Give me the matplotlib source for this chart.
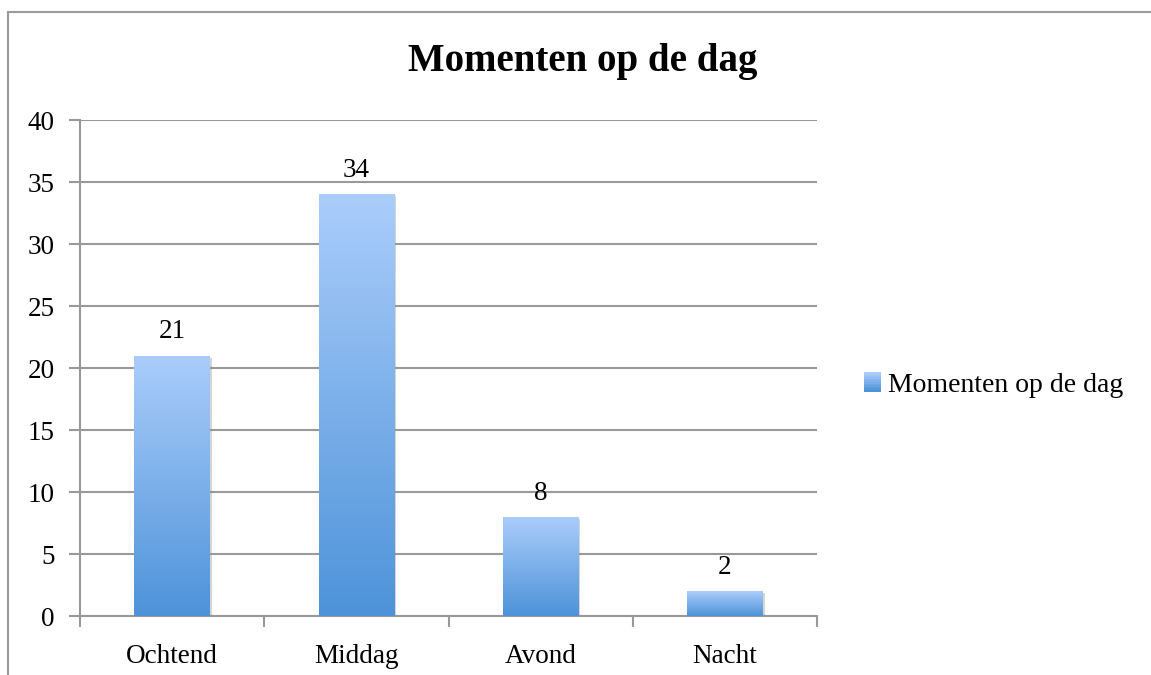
import numpy as np
import matplotlib
matplotlib.use("Agg")
import matplotlib.pyplot as plt
from matplotlib.lines import Line2D
from matplotlib.patches import Patch, Rectangle
from matplotlib.colors import LinearSegmentedColormap
from matplotlib.legend_handler import HandlerBase
import matplotlib.patheffects as pe

categories = ["Ochtend", "Middag", "Avond", "Nacht"]
values = [21, 34, 8, 2]
series_name = "Momenten op de dag"
title = "Momenten op de dag"
yticks = [0, 5, 10, 15, 20, 25, 30, 35, 40]

plt.rcParams['font.family'] = ['Liberation Serif', 'DejaVu Serif']

grid_col = "#999999"
top_col = "#abcdfb"
bot_col = "#4d93d9"
grad = LinearSegmentedColormap.from_list("bar", [bot_col, top_col])


class HandlerGrad(HandlerBase):
    # small gradient square for the legend, built from thin stripes
    def create_artists(self, legend, orig_handle, xdescent, ydescent,
                       width, height, fontsize, trans):
        n = 12
        out = []
        for i in range(n):
            r = Rectangle((-xdescent, -ydescent + height * i / n), width, height / n + 0.3,
                          facecolor=grad(i / (n - 1)), edgecolor="none", transform=trans)
            out.append(r)
        return out


fig = plt.figure(figsize=(11.51, 6.75), dpi=100)
ax = fig.add_axes([80 / 1151, 1 - 616 / 675, 737 / 1151, 496 / 675])

# outer frame of the chart (only top and left edges visible)
fig.add_artist(Line2D([8 / 1151, 1.0], [1 - 11.5 / 675, 1 - 11.5 / 675],
                      transform=fig.transFigure, color=grid_col, lw=1.5))
fig.add_artist(Line2D([8 / 1151, 8 / 1151], [0, 1 - 11.5 / 675],
                      transform=fig.transFigure, color=grid_col, lw=1.5))

x = np.arange(len(categories))
width = 0.41
bars = ax.bar(x, values, width, color="#7fb0ea", zorder=3,
              path_effects=[pe.SimplePatchShadow(offset=(1.5, -1.5), shadow_rgbFace="#888888", alpha=0.35),
                            pe.Normal()])

g = np.linspace(0, 1, 256).reshape(-1, 1)
for b in bars:
    x0 = b.get_x()
    h = b.get_height()
    im = ax.imshow(g, extent=[x0, x0 + width, 0, h], origin="lower",
                   aspect="auto", cmap=grad, zorder=4)
    im.set_clip_path(b)

for xi, v in zip(x, values):
    ax.annotate(str(v), (xi, v), xytext=(0, 8), textcoords="offset points",
                ha="center", va="bottom", fontsize=19.5)

ax.set_xlim(-0.5, len(categories) - 0.5)
ax.set_ylim(0, 40)
ax.set_yticks(yticks)
ax.grid(axis="y", color=grid_col, lw=1.5, zorder=0)
ax.set_axisbelow(True)

ax.set_xticks(np.arange(len(categories) + 1) - 0.5)
ax.set_xticklabels([])
ax.set_xticks(x, minor=True)
ax.set_xticklabels(categories, minor=True)
ax.tick_params(axis="x", which="major", length=8, width=1.5, color=grid_col, direction="out")
ax.tick_params(axis="x", which="minor", length=0, pad=20, labelsize=19.5)
ax.tick_params(axis="y", length=8, width=1.5, color=grid_col, pad=10, labelsize=19.5)

for s in ["top", "right"]:
    ax.spines[s].set_visible(False)
for s in ["left", "bottom"]:
    ax.spines[s].set_color(grid_col)
    ax.spines[s].set_linewidth(1.5)

fig.text(583 / 1151, 1 - 61 / 675, title, ha="center", va="center",
         fontsize=28, fontweight="bold")

handle = Patch(facecolor="#7fb0ea", edgecolor="none")
fig.legend([handle], [series_name], loc="center left",
           bbox_to_anchor=(864 / 1151, 1 - 385 / 675), frameon=False,
           fontsize=20, handlelength=0.6, handleheight=0.7, handletextpad=0.25,
           borderaxespad=0, borderpad=0, handler_map={Patch: HandlerGrad()})

fig.savefig("out.png", dpi=100)
